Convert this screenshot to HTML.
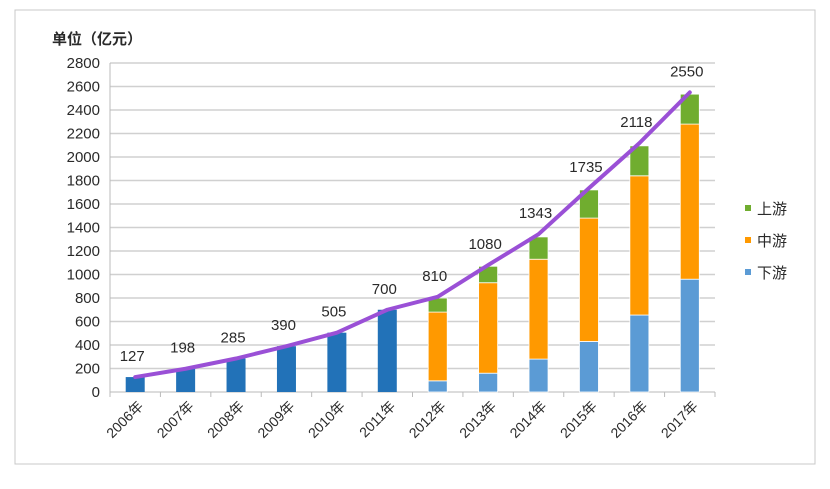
<!DOCTYPE html>
<html><head><meta charset="utf-8"><style>
body{margin:0;background:#fff;}
svg text{font-family:"Liberation Sans","Noto Sans CJK SC",sans-serif;fill:#2a2a2a;}
</style></head><body>
<svg id="chart" width="830" height="484">
<rect x="15" y="10" width="800" height="454" fill="#fff" stroke="#c8c8c8"/>
<text x="52" y="44" font-size="15" font-weight="bold">单位（亿元）</text>
<g id="grid"></g><g id="bars"></g><g id="line"></g><g id="labels"></g>
<g id="legend"></g>
</svg>
<script>
const categories=["2006年","2007年","2008年","2009年","2010年","2011年","2012年","2013年","2014年","2015年","2016年","2017年"];
const totals=[127,198,285,390,505,700,810,1080,1343,1735,2118,2550];
const downstream=[0,0,0,0,0,0,95,160,280,430,655,960];
const midstream=[0,0,0,0,0,0,585,770,850,1050,1185,1320];
const upstream=[0,0,0,0,0,0,120,140,190,240,255,255];
const yTicks=[0,200,400,600,800,1000,1200,1400,1600,1800,2000,2200,2400,2600,2800];
const NS="http://www.w3.org/2000/svg";
const X0=110,X1=715,Y0=392,Y1=63,YMAX=2800;
const band=(X1-X0)/categories.length;
const y=v=>Y0-(v/YMAX)*(Y0-Y1);
const xc=i=>X0+band*(i+0.5);
function mk(tag,attrs,parent){const e=document.createElementNS(NS,tag);for(const k in attrs)e.setAttribute(k,attrs[k]);parent.appendChild(e);return e;}
const grid=document.getElementById('grid');
yTicks.forEach(t=>{
  const l=mk('line',{x1:X0,x2:X1,y1:y(t),y2:y(t),stroke:'#d0d0d0','stroke-width':1.5},grid);
  
  
  const tx=mk('text',{x:X0-10,y:y(t)+5,'font-size':15,'text-anchor':'end'},grid);
  tx.textContent=t;
  
  
});
mk('line',{x1:X0,x2:X0,y1:Y1,y2:Y0,stroke:'#bbb'},grid);
categories.forEach((c,i)=>{
  mk('line',{x1:X0+band*i,x2:X0+band*i,y1:Y0,y2:Y0+5,stroke:'#bbb'},grid);
  const tx=mk('text',{x:0,y:0,'font-size':14,'text-anchor':'end',transform:`translate(${xc(i)+9},${Y0+15}) rotate(-45)`},grid);
  tx.textContent=c;
  
  
});
mk('line',{x1:X1,x2:X1,y1:Y0,y2:Y0+5,stroke:'#bbb'},grid);
const bars=document.getElementById('bars');
const BW=19;
categories.forEach((c,i)=>{
  if(downstream[i]+midstream[i]+upstream[i]===0){
    const r=mk('rect',{x:xc(i)-BW/2,y:y(totals[i]),width:BW,height:Y0-y(totals[i]),fill:'#2272b8'},bars);
    
    
  } else {
    let base=0;
    [[downstream,'#5b9bd5','bar-downstream'],[midstream,'#ff9900','bar-midstream'],[upstream,'#70ad2f','bar-upstream']].forEach(([arr,col,nm])=>{
      const r=mk('rect',{x:xc(i)-BW/2,y:y(base+arr[i]),width:BW,height:y(base)-y(base+arr[i]),fill:col,stroke:'#fff','stroke-width':0.8},bars);
      
      
      base+=arr[i];
    });
  }
});
const pts=totals.map((v,i)=>xc(i)+','+y(v)).join(' ');
const pl=mk('polyline',{points:pts,fill:'none',stroke:'#9a50d6','stroke-width':4,'stroke-linejoin':'round','stroke-linecap':'round'},document.getElementById('line'));


const lab=document.getElementById('labels');
totals.forEach((v,i)=>{
  const tx=mk('text',{x:xc(i)-3,y:y(v)-16,'font-size':15,'text-anchor':'middle'},lab);
  tx.textContent=v;
  
  
});
const leg=document.getElementById('legend');
[['上游','#70ad2f',208],['中游','#ff9900',240],['下游','#5b9bd5',272]].forEach(([t,c,yy])=>{
  const g=mk('g',{},leg);
  
  
  mk('rect',{x:745,y:yy-3,width:6,height:6,fill:c},g);
  const tx=mk('text',{x:757,y:yy+6,'font-size':15},g);
  tx.textContent=t;
});
</script>
</body></html>
